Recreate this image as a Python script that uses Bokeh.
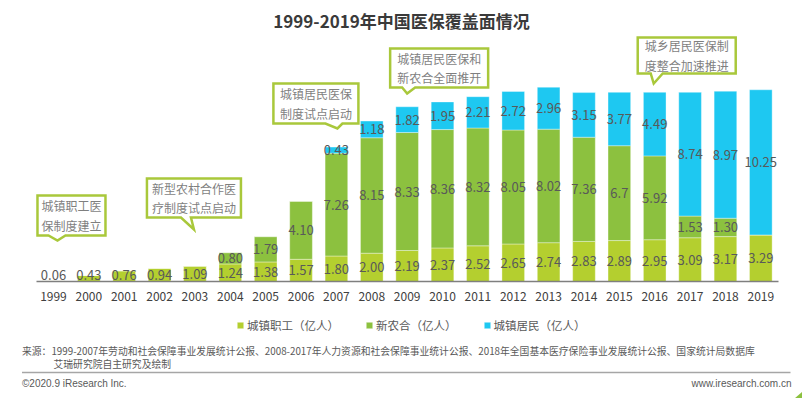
from bokeh.plotting import figure
from bokeh.models import (Range1d, FixedTicker, ColumnDataSource, Label, Legend,
                          LegendItem, Arrow)
from bokeh.embed import file_html
from bokeh.resources import INLINE
from bokeh.core.properties import value

# ---------------- data ----------------
years = list(range(1999, 2020))
year_labels = [str(y) for y in years]
zhigong = ["0.06", "0.43", "0.76", "0.94", "1.09", "1.24", "1.38", "1.57", "1.80", "2.00", "2.19",
           "2.37", "2.52", "2.65", "2.74", "2.83", "2.89", "2.95", "3.09", "3.17", "3.29"]
xinnonghe = [None, None, None, None, None, "0.80", "1.79", "4.10", "7.26", "8.15", "8.33",
             "8.36", "8.32", "8.05", "8.02", "7.36", "6.7", "5.92", "1.53", "1.30", None]
jumin = [None, None, None, None, None, None, None, None, "0.43", "1.18", "1.82",
         "1.95", "2.21", "2.72", "2.96", "3.15", "3.77", "4.49", "8.74", "8.97", "10.25"]
series_names = ["城镇职工（亿人）", "新农合（亿人）", "城镇居民（亿人）"]
colors = ["#b4cf2f", "#8cc13f", "#1ec8f1"]

title_text = "1999-2019年中国医保覆盖面情况"
source_line1 = "来源：1999-2007年劳动和社会保障事业发展统计公报、2008-2017年人力资源和社会保障事业统计公报、2018年全国基本医疗保险事业发展统计公报、国家统计局数据库"
source_line2 = "艾瑞研究院自主研究及绘制"
copyright_text = "©2020.9 iResearch Inc."
site_text = "www.iresearch.com.cn"

callout_texts = ["城镇职工医\n保制度建立", "新型农村合作医\n疗制度试点启动", "城镇居民医保\n制度试点启动",
                 "城镇居民医保和\n新农合全面推开", "城乡居民医保制\n度整合加速推进"]
callout_years = [1999, 2003, 2007, 2009, 2016]

# ---------------- layout ----------------
FONT = "Noto Sans CJK SC"
FIG_W, FIG_H = 802, 398
AX_L, AX_R, BASE_PY = 36, 778, 281      # bar area on the page (px)
YR0, YR1 = 1998.52, 2019.5              # data extent of the bar area
PX_PER_Y = 14.16
PX_PER_X = (AX_R - AX_L) / (YR1 - YR0)


def dx(px):
    return YR0 + (px - AX_L) / PX_PER_X


def dy(py):
    return (BASE_PY - py) / PX_PER_Y


def xpx(xv):
    return AX_L + (xv - YR0) * PX_PER_X


p = figure(width=FIG_W, height=FIG_H, output_backend="svg", toolbar_location=None,
           x_range=Range1d(dx(0), dx(FIG_W)), y_range=Range1d(dy(FIG_H), dy(0)),
           min_border=0, y_axis_location=None, title=None)
p.outline_line_color = None
p.xgrid.visible = False
p.ygrid.visible = False
p.background_fill_color = "white"

vals = [[float(v) if v is not None else 0.0 for v in s] for s in (zhigong, xinnonghe, jumin)]
src = ColumnDataSource(dict(year=years, a=vals[0], b=vals[1], c=vals[2]))
rs = p.vbar_stack(["a", "b", "c"], x="year", width=0.64, color=colors,
                  line_color="white", line_width=0.6, line_alpha=0.6, source=src)

# value labels
lx, ly, lt = [], [], []
for i, yr in enumerate(years):
    base = 0.0
    for s, raw in zip(vals, (zhigong, xinnonghe, jumin)):
        v = s[i]
        if raw[i] is not None:
            mid = base + v / 2
            lx.append(yr)
            ly.append(max(mid, 0.45))
            lt.append(raw[i])
        base += v
p.text(x=lx, y=ly, text=lt, text_align="center", text_baseline="middle",
       text_font=value(FONT), text_font_size="13px", text_color="#595959")

# axis, drawn at y = 0 inside the frame
ax = p.xaxis[0]
ax.fixed_location = 0
ax.bounds = (YR0, YR1)
ax.ticker = FixedTicker(ticks=years)
ax.major_label_overrides = {y: s for y, s in zip(years, year_labels)}
ax.major_tick_line_color = None
ax.minor_tick_line_color = None
ax.major_tick_out = 0
ax.major_tick_in = 0
ax.axis_line_color = "#7f7f7f"
ax.axis_line_width = 1.5
ax.major_label_standoff = 10
ax.major_label_text_font = FONT
ax.major_label_text_font_size = "12px"
ax.major_label_text_color = "#404040"

# callouts (box geometry in pixels relative to the pointed tip)
callout_geom = [  # tip_dx, tip_py, L, R, T, B, base_l, base_r (offsets from tip, px)
    (4, 240, -20, 48, -45, -5, -9, 8),
    (-1, 229, -47, 47, -51, -12, -13, -3),
    (1, 128, -64, 21, -45, -5, -12, 5),
    (0, 93, -17, 81, -45, -6, -5, 8),
    (-1, 83, -16, 82, -46, -10, -3, 9),
]
cxs, cys, tx, ty = [], [], [], []
for yr, g in zip(callout_years, callout_geom):
    tdx, tpy, L, R, T, B, bl, br = g
    tpx = xpx(yr) + tdx
    pts = [(tpx + L, tpy + T), (tpx + R, tpy + T), (tpx + R, tpy + B), (tpx + br, tpy + B),
           (tpx, tpy), (tpx + bl, tpy + B), (tpx + L, tpy + B)]
    cxs.append([dx(a) for a, b in pts])
    cys.append([dy(b) for a, b in pts])
    tx.append(dx(tpx + (L + R) / 2))
    ty.append(dy(tpy + (T + B) / 2))
p.patches(cxs, cys, fill_color="white", line_color="#a9c83b", line_width=2.5, line_join="miter")
p.text(x=tx, y=ty, text=callout_texts, text_align="center", text_baseline="middle",
       text_font=value(FONT), text_font_size="12px", text_color="#7f7f7f", text_line_height=1.15)

# legend (screen position from the frame's bottom-left)
legend = Legend(items=[LegendItem(label=n, renderers=[r]) for n, r in zip(series_names, rs)],
                orientation="horizontal", location=(236, FIG_H - 335))
legend.background_fill_alpha = 0
legend.border_line_color = None
legend.padding = 0
legend.margin = 0
legend.spacing = 26
legend.glyph_width = 8
legend.glyph_height = 8
legend.label_standoff = 3
legend.label_height = 20
legend.label_text_font = FONT
legend.label_text_font_size = "11.5px"
legend.label_text_color = "#595959"
p.add_layout(legend)

# title & footer texts
p.add_layout(Label(x=dx(401), y=dy(20), text=title_text, text_align="center", text_baseline="middle",
                   text_font=FONT, text_font_size="17px", text_font_style="bold", text_color="#3a3a3a"))
p.add_layout(Label(x=dx(21.5), y=dy(350.7), text=source_line1, text_baseline="middle",
                   text_font=FONT, text_font_size="9.8px", text_color="#595959"))
p.add_layout(Label(x=dx(53), y=dy(363), text=source_line2, text_baseline="middle",
                   text_font=FONT, text_font_size="9.8px", text_color="#595959"))
p.add_layout(Arrow(end=None, x_start=dx(21.5), y_start=dy(372), x_end=dx(790), y_end=dy(372),
                   line_color="#a6a6a6", line_width=1.5))
p.add_layout(Label(x=dx(21.5), y=dy(383), text=copyright_text, text_baseline="middle",
                   text_font="Liberation Sans", text_font_size="10px", text_color="#595959"))
p.add_layout(Label(x=dx(791), y=dy(383), text=site_text, text_baseline="middle", text_align="right",
                   text_font="Liberation Sans", text_font_size="10px", text_color="#595959"))
# corner ornament
p.patch([dx(794), dx(802), dx(802)], [dy(398), dy(391), dy(398)], color="#8cc13f", line_color=None)

open("out.html", "w").write(file_html(p, INLINE))
